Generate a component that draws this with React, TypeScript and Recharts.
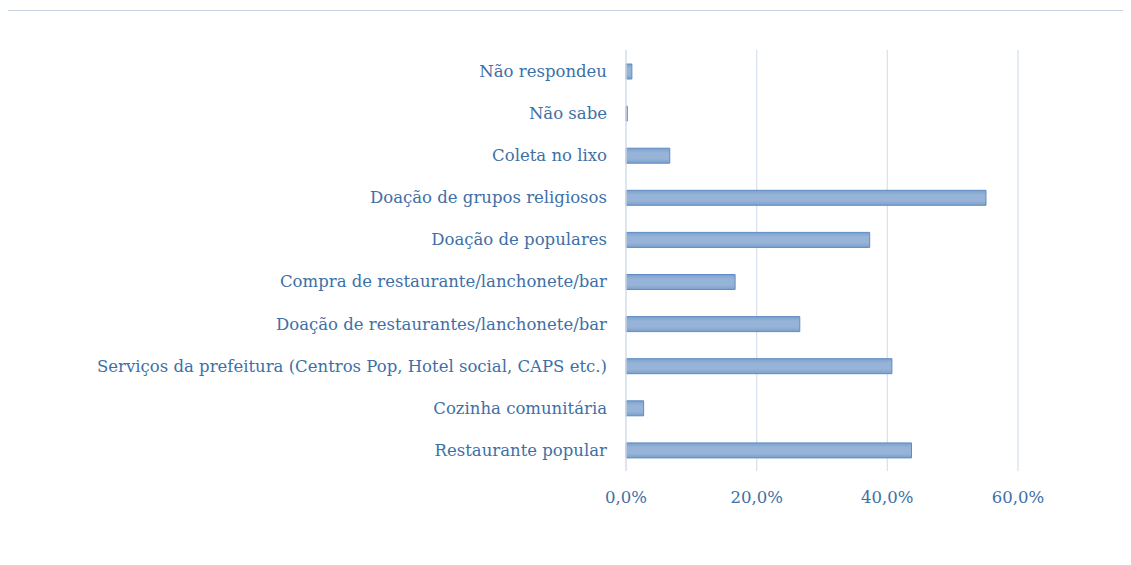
import React from "react";
import { BarChart, Bar, XAxis, YAxis, CartesianGrid } from "recharts";

const categories = [
  "Não respondeu",
  "Não sabe",
  "Coleta no lixo",
  "Doação de grupos religiosos",
  "Doação de populares",
  "Compra de restaurante/lanchonete/bar",
  "Doação de restaurantes/lanchonete/bar",
  "Serviços da prefeitura (Centros Pop, Hotel social, CAPS etc.)",
  "Cozinha comunitária",
  "Restaurante popular",
];
const values = [0.009, 0.002, 0.067, 0.551, 0.373, 0.167, 0.266, 0.407, 0.027, 0.437];
const xTicks = [0, 0.2, 0.4, 0.6];

const data = categories.map((c, i) => ({ name: c, value: values[i] }));

const TEXT = "#3E6FA6";
const FONT = "DejaVu Serif";

const fmt = (v: number) => (v * 100).toFixed(1).replace(".", ",") + "%";

export default function App() {
  return (
    <div style={{ position: "relative", width: 1115, height: 549, fontFamily: FONT }}>
      <style>{"html,body{overflow:hidden;background:#fff}"}</style>
      <div
        style={{
          position: "absolute",
          left: -1,
          top: 2,
          width: 1124,
          height: 555,
          borderLeft: "1px solid #c9d4e1",
          borderTop: "1px solid #c9d4e1",
          boxSizing: "border-box",
        }}
      />
      <div style={{ position: "absolute", left: 0, top: 0 }}>
        <BarChart
          width={1115}
          height={549}
          data={data}
          layout="vertical"
          margin={{ top: 42, right: 105, bottom: 56, left: 0 }}
          barSize={15}
        >
          <defs>
            <linearGradient id="barGrad" x1="0" y1="0" x2="0" y2="1">
              <stop offset="0%" stopColor="#7aa0cc" />
              <stop offset="30%" stopColor="#97b4d8" />
              <stop offset="70%" stopColor="#97b4d8" />
              <stop offset="100%" stopColor="#7aa0cc" />
            </linearGradient>
          </defs>
          <CartesianGrid horizontal={false} stroke="#d9e2ee" strokeWidth={1.3} />
          <XAxis
            type="number"
            domain={[0, 0.6]}
            ticks={xTicks}
            tickFormatter={fmt}
            axisLine={false}
            tickLine={false}
            tickMargin={14}
            height={30}
            tick={{ fill: TEXT, fontSize: 16.5, fontFamily: FONT }}
          />
          <YAxis
            type="category"
            dataKey="name"
            width={618}
            axisLine={{ stroke: "#d9e2ee", strokeWidth: 1.3 }}
            tickLine={false}
            tickMargin={13}
            interval={0}
            tick={{ fill: TEXT, fontSize: 16.5, fontFamily: FONT }}
          />
          <Bar
            dataKey="value"
            fill="url(#barGrad)"
            stroke="#5f8cc2"
            strokeWidth={1}
            isAnimationActive={false}
          />
        </BarChart>
      </div>
    </div>
  );
}
